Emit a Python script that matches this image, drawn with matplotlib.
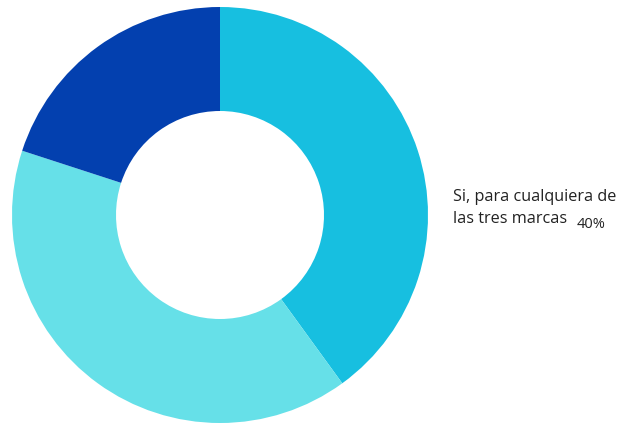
import matplotlib
matplotlib.use('Agg')
import matplotlib.pyplot as plt

# slice order: clockwise from 12 o'clock
labels = ["Si, para cualquiera de\nlas tres marcas", "", ""]
values = [40, 40, 20]
colors = ["#17BFE0", "#66E0E8", "#0340AF"]

plt.rcParams['font.family'] = ['Open Sans', 'DejaVu Sans']

fig = plt.figure(figsize=(6.21, 4.28), dpi=100)
ax = fig.add_axes([12/621, 5/428, 416/621, 416/428])
ax.pie(values, colors=colors, startangle=90, counterclock=False, radius=1,
       wedgeprops=dict(width=0.5, edgecolor='none'))
ax.set_xlim(-1, 1)
ax.set_ylim(-1, 1)
ax.set_aspect('equal')
ax.axis('off')

fig.text(453/621, 1 - 201/428, "Si, para cualquiera de", fontsize=11.7,
         color="#222222", va='baseline', ha='left')
fig.text(453/621, 1 - 223/428, "las tres marcas", fontsize=11.7,
         color="#222222", va='baseline', ha='left')
fig.text(577/621, 1 - 228/428, f"{values[0]}%", fontsize=10.5,
         color="#222222", va='baseline', ha='left')

fig.savefig("out.png", dpi=100)
